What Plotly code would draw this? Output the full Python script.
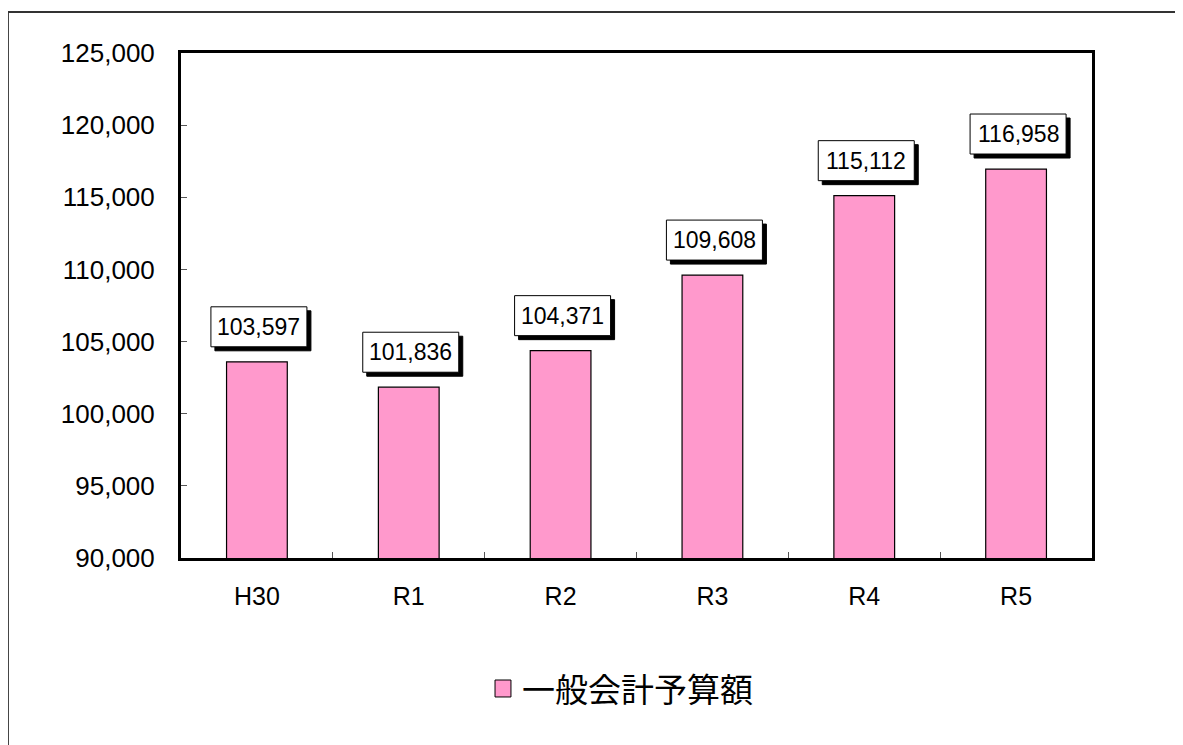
import plotly.graph_objects as go

categories = ["H30", "R1", "R2", "R3", "R4", "R5"]
values = [103597, 101836, 104371, 109608, 115112, 116958]
series_name = "一般会計予算額"
y_ticks = [90000, 95000, 100000, 105000, 110000, 115000, 120000, 125000]

PINK = "#FF99CC"
NUM_FONT = "Liberation Sans"
CJK_FONT = "Noto Sans CJK JP"

fig = go.Figure()
fig.add_trace(go.Bar(
    x=categories, y=values, name=series_name,
    marker=dict(color=PINK, line=dict(color="black", width=1.2)),
    width=0.4, showlegend=False,
))

shapes = [dict(type="rect", xref="paper", yref="paper",
               x0=-0.19, x1=1.3, y0=-0.6, y1=1.081,
               line=dict(color="#333333", width=2), layer="below")]
annotations = []
for c, v in zip(categories, values):
    # shadow box
    shapes.append(dict(type="rect", xref="x", yref="y",
                       xsizemode="pixel", ysizemode="pixel",
                       xanchor=c, yanchor=v,
                       x0=-42, x1=54, y0=11, y1=51,
                       fillcolor="black", line=dict(color="black", width=1),
                       layer="above"))
    # white label box
    shapes.append(dict(type="rect", xref="x", yref="y",
                       xsizemode="pixel", ysizemode="pixel",
                       xanchor=c, yanchor=v,
                       x0=-46, x1=50, y0=15, y1=55,
                       fillcolor="white", line=dict(color="black", width=1),
                       layer="above"))
    annotations.append(dict(
        x=c, y=v, xref="x", yref="y", text=f"{v:,}", showarrow=False,
        yanchor="middle", yshift=35, xshift=2,
        font=dict(family=NUM_FONT, size=23, color="black"),
    ))

# legend (drawn manually to match the reference swatch size)
shapes.append(dict(type="rect", xref="paper", yref="paper",
                   x0=0.3447, x1=0.3622, y0=-0.2752, y1=-0.2416,
                   fillcolor=PINK, line=dict(color="black", width=1)))
annotations.append(dict(
    x=0.3721, y=-0.2574, xref="paper", yref="paper", text=series_name,
    showarrow=False, xanchor="left", yanchor="middle",
    font=dict(family=CJK_FONT, size=33, color="black"),
))

fig.update_layout(
    width=1183, height=745,
    margin=dict(l=173, r=99, t=45, b=195),
    paper_bgcolor="white", plot_bgcolor="white",
    annotations=annotations,
    shapes=shapes,
    showlegend=False,
    xaxis=dict(
        showline=True, linecolor="black", linewidth=3, mirror=True,
        ticks="inside", tickson="boundaries", ticklen=6, tickcolor="#555555",
        tickfont=dict(family=NUM_FONT, size=25, color="black"),
        ticklabelstandoff=14, showgrid=False,
    ),
    yaxis=dict(
        range=[90000, 125000], tickvals=y_ticks, tickformat=",",
        showline=True, linecolor="black", linewidth=3, mirror=True,
        ticks="inside", ticklen=6, tickcolor="#555555",
        tickfont=dict(family=NUM_FONT, size=26, color="black"),
        ticklabelstandoff=18, showgrid=False, zeroline=False,
    ),
)

fig.write_html("out.html")
